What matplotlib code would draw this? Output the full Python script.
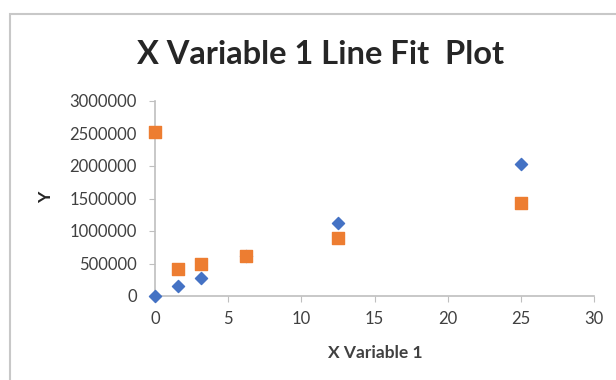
import matplotlib.pyplot as plt
from matplotlib.patches import Rectangle

# regression line fit data (Excel style)
x_vals = [0, 1.5625, 3.125, 6.25, 12.5, 25]
y_actual = [0, 154000, 277000, 620000, 1118000, 2030000]
y_pred = [2528000, 415000, 488000, 620000, 887000, 1435000]

xticks = [0, 5, 10, 15, 20, 25, 30]
yticks = [0, 500000, 1000000, 1500000, 2000000, 2500000, 3000000]

plt.rcParams['font.family'] = ['Lato', 'DejaVu Sans']

fig = plt.figure(figsize=(6.16, 3.80), dpi=100)
ax = fig.add_axes([155/616, 1-296/380, (594-155)/616, (296-101)/380])

# chart area border
fig.patches.append(Rectangle((10/616, -0.1), 1.2, 1.1-14/380, transform=fig.transFigure,
                             fill=False, edgecolor='#c8c8c8', lw=1.5))

ax.scatter(x_vals, y_actual, marker='D', s=38, color='#4472C4', zorder=3, clip_on=False)
ax.scatter(x_vals, y_pred, marker='s', s=75, color='#ED7D31', zorder=3, clip_on=False)

ax.set_xlim(0, 30)
ax.set_ylim(0, 3000000)
ax.set_xticks(xticks)
ax.set_yticks(yticks)
ax.set_yticklabels([str(v) for v in yticks])

for s in ['top', 'right']:
    ax.spines[s].set_visible(False)
for s in ['left', 'bottom']:
    ax.spines[s].set_color('#bfbfbf')
    ax.spines[s].set_linewidth(1.2)
ax.tick_params(colors='#bfbfbf', labelcolor='#404040', labelsize=12, length=4, direction='out')
ax.tick_params(axis='x', pad=7)
ax.tick_params(axis='y', pad=9)

fig.text(321/616, 1-54/380, 'X Variable 1 Line Fit  Plot', ha='center', va='center',
         fontsize=23.5, fontweight='bold', color='#262626')
fig.text(375/616, 1-353/380, 'X Variable 1', ha='center', va='center',
         fontsize=12.5, fontweight='bold', color='#404040')
fig.text(46/616, 1-197/380, 'Y', ha='center', va='center', rotation=90,
         fontsize=12.5, fontweight='bold', color='#262626')

fig.savefig('out.png', dpi=100)
